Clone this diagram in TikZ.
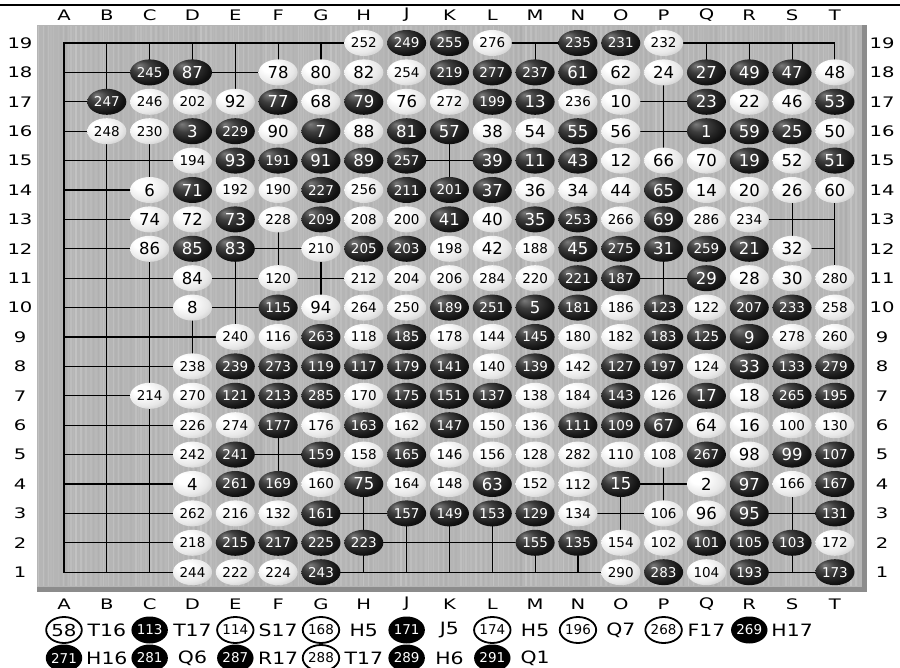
\documentclass[tikz,border=0pt]{standalone}
\usepackage{fontspec}
\setmainfont{DejaVu Sans}
\usepackage{graphicx}
\usetikzlibrary{shapes.geometric}

\pgfdeclareradialshading{wstone}{\pgfpoint{-12bp}{12bp}}{color(0bp)=(white); color(10bp)=(white); color(26bp)=(black!9); color(42bp)=(black!28); color(60bp)=(black!48)}
\pgfdeclareradialshading{bstone}{\pgfpoint{-14bp}{14bp}}{color(0bp)=(black!52); color(12bp)=(black!76); color(28bp)=(black!93); color(50bp)=(black)}

\newcommand\stretchx[1]{\scalebox{1.35}[1]{#1}}
\newcommand\legstretch[1]{\scalebox{1.2}[1]{#1}}

\def\stonelist{%
8/19/252/w, 9/19/249/b, 10/19/255/b, 11/19/276/w, 13/19/235/b, 14/19/231/b, 15/19/232/w,
3/18/245/b, 4/18/87/b, 6/18/78/w, 7/18/80/w, 8/18/82/w, 9/18/254/w, 10/18/219/b, 11/18/277/b, 12/18/237/b, 13/18/61/b, 14/18/62/w, 15/18/24/w, 16/18/27/b, 17/18/49/b, 18/18/47/b, 19/18/48/w,
2/17/247/b, 3/17/246/w, 4/17/202/w, 5/17/92/w, 6/17/77/b, 7/17/68/w, 8/17/79/b, 9/17/76/w, 10/17/272/w, 11/17/199/b, 12/17/13/b, 13/17/236/w, 14/17/10/w, 16/17/23/b, 17/17/22/w, 18/17/46/w, 19/17/53/b,
2/16/248/w, 3/16/230/w, 4/16/3/b, 5/16/229/b, 6/16/90/w, 7/16/7/b, 8/16/88/w, 9/16/81/b, 10/16/57/b, 11/16/38/w, 12/16/54/w, 13/16/55/b, 14/16/56/w, 16/16/1/b, 17/16/59/b, 18/16/25/b, 19/16/50/w,
4/15/194/w, 5/15/93/b, 6/15/191/b, 7/15/91/b, 8/15/89/b, 9/15/257/b, 11/15/39/b, 12/15/11/b, 13/15/43/b, 14/15/12/w, 15/15/66/w, 16/15/70/w, 17/15/19/b, 18/15/52/w, 19/15/51/b,
3/14/6/w, 4/14/71/b, 5/14/192/w, 6/14/190/w, 7/14/227/b, 8/14/256/w, 9/14/211/b, 10/14/201/b, 11/14/37/b, 12/14/36/w, 13/14/34/w, 14/14/44/w, 15/14/65/b, 16/14/14/w, 17/14/20/w, 18/14/26/w, 19/14/60/w,
3/13/74/w, 4/13/72/w, 5/13/73/b, 6/13/228/w, 7/13/209/b, 8/13/208/w, 9/13/200/w, 10/13/41/b, 11/13/40/w, 12/13/35/b, 13/13/253/b, 14/13/266/w, 15/13/69/b, 16/13/286/w, 17/13/234/w,
3/12/86/w, 4/12/85/b, 5/12/83/b, 7/12/210/w, 8/12/205/b, 9/12/203/b, 10/12/198/w, 11/12/42/w, 12/12/188/w, 13/12/45/b, 14/12/275/b, 15/12/31/b, 16/12/259/b, 17/12/21/b, 18/12/32/w,
4/11/84/w, 6/11/120/w, 8/11/212/w, 9/11/204/w, 10/11/206/w, 11/11/284/w, 12/11/220/w, 13/11/221/b, 14/11/187/b, 16/11/29/b, 17/11/28/w, 18/11/30/w, 19/11/280/w,
4/10/8/w, 6/10/115/b, 7/10/94/w, 8/10/264/w, 9/10/250/w, 10/10/189/b, 11/10/251/b, 12/10/5/b, 13/10/181/b, 14/10/186/w, 15/10/123/b, 16/10/122/w, 17/10/207/b, 18/10/233/b, 19/10/258/w,
5/9/240/w, 6/9/116/w, 7/9/263/b, 8/9/118/w, 9/9/185/b, 10/9/178/w, 11/9/144/w, 12/9/145/b, 13/9/180/w, 14/9/182/w, 15/9/183/b, 16/9/125/b, 17/9/9/b, 18/9/278/w, 19/9/260/w,
4/8/238/w, 5/8/239/b, 6/8/273/b, 7/8/119/b, 8/8/117/b, 9/8/179/b, 10/8/141/b, 11/8/140/w, 12/8/139/b, 13/8/142/w, 14/8/127/b, 15/8/197/b, 16/8/124/w, 17/8/33/b, 18/8/133/b, 19/8/279/b,
3/7/214/w, 4/7/270/w, 5/7/121/b, 6/7/213/b, 7/7/285/b, 8/7/170/w, 9/7/175/b, 10/7/151/b, 11/7/137/b, 12/7/138/w, 13/7/184/w, 14/7/143/b, 15/7/126/w, 16/7/17/b, 17/7/18/w, 18/7/265/b, 19/7/195/b,
4/6/226/w, 5/6/274/w, 6/6/177/b, 7/6/176/w, 8/6/163/b, 9/6/162/w, 10/6/147/b, 11/6/150/w, 12/6/136/w, 13/6/111/b, 14/6/109/b, 15/6/67/b, 16/6/64/w, 17/6/16/w, 18/6/100/w, 19/6/130/w,
4/5/242/w, 5/5/241/b, 7/5/159/b, 8/5/158/w, 9/5/165/b, 10/5/146/w, 11/5/156/w, 12/5/128/w, 13/5/282/w, 14/5/110/w, 15/5/108/w, 16/5/267/b, 17/5/98/w, 18/5/99/b, 19/5/107/b,
4/4/4/w, 5/4/261/b, 6/4/169/b, 7/4/160/w, 8/4/75/b, 9/4/164/w, 10/4/148/w, 11/4/63/b, 12/4/152/w, 13/4/112/w, 14/4/15/b, 16/4/2/w, 17/4/97/b, 18/4/166/w, 19/4/167/b,
4/3/262/w, 5/3/216/w, 6/3/132/w, 7/3/161/b, 9/3/157/b, 10/3/149/b, 11/3/153/b, 12/3/129/b, 13/3/134/w, 15/3/106/w, 16/3/96/w, 17/3/95/b, 19/3/131/b,
4/2/218/w, 5/2/215/b, 6/2/217/b, 7/2/225/b, 8/2/223/b, 12/2/155/b, 13/2/135/b, 14/2/154/w, 15/2/102/w, 16/2/101/b, 17/2/105/b, 18/2/103/b, 19/2/172/w,
4/1/244/w, 5/1/222/w, 6/1/224/w, 7/1/243/b, 14/1/290/w, 15/1/283/b, 16/1/104/w, 17/1/193/b, 19/1/173/b}

% mark occupied points
\foreach \cc/\rr/\nn/\kk in \stonelist {\expandafter\gdef\csname st-\cc-\rr\endcsname{1}}

\tikzset{
  gridline/.style={line width=1.1pt, black, line cap=rect},
  stone/.style={ellipse, minimum width=39pt, minimum height=26pt, inner sep=0pt},
  bst/.style={stone, shading=bstone, text=white},
  wst/.style={stone, shading=wstone, text=black},
  lab/.style={inner sep=0pt, font=\fontsize{14.5}{15}\selectfont},
  legw/.style={ellipse, draw=black, line width=1.8pt, fill=white, minimum width=35pt, minimum height=26pt, inner sep=0pt},
  legb/.style={ellipse, fill=black, text=white, minimum width=36pt, minimum height=27pt, inner sep=0pt},
  legt/.style={inner sep=0pt, font=\fontsize{17}{17}\selectfont},
  big/.style={font=\fontsize{16.5}{17}\selectfont},
  small/.style={font=\fontsize{13.5}{14}\selectfont},
}

\begin{document}
\begin{tikzpicture}[x=1pt, y=-1pt]
\useasboundingbox (0,0) rectangle (900,668);
\fill[white] (0,0) rectangle (900,668);
% top rule
\draw[line width=2pt] (0,5) -- (900,5);

% board
\fill[black!29] (37,25) rectangle (867,592);
\foreach \i in {0,...,328}{
  \pgfmathtruncatemacro\sh{24+mod(\i*7,13)/2+mod(\i*3,5)/2}
  \draw[line width=1.3pt, black!\sh] ({38.5+\i*2.5},26) -- ({38.5+\i*2.5},586);
}
\fill[black!45] (862,25) rectangle (867,592);
\fill[black!45] (37,587) rectangle (867,592);

% grid points
\foreach \cc in {1,...,19}{
  \foreach \rr in {1,...,19}{
    \coordinate (p-\cc-\rr) at ({64+(\cc-1)*42.83},{43+(19-\rr)*29.4});
  }
}
% horizontal segments
\foreach \rr in {1,...,19}{
  \foreach \cc in {1,...,18}{
    \pgfmathtruncatemacro\cn{\cc+1}
    \def\dodraw{1}
    \ifcsname st-\cc-\rr\endcsname\ifcsname st-\cn-\rr\endcsname\def\dodraw{0}\fi\fi
    \ifnum\dodraw=1 \draw[gridline] (p-\cc-\rr) -- (p-\cn-\rr);\fi
  }
}
% vertical segments
\foreach \cc in {1,...,19}{
  \foreach \rr in {1,...,18}{
    \pgfmathtruncatemacro\rn{\rr+1}
    \def\dodraw{1}
    \ifcsname st-\cc-\rr\endcsname\ifcsname st-\cc-\rn\endcsname\def\dodraw{0}\fi\fi
    \ifnum\dodraw=1 \draw[gridline] (p-\cc-\rr) -- (p-\cc-\rn);\fi
  }
}

% stones
\foreach \cc/\rr/\nn/\kk in \stonelist {
  \ifnum\nn>99 \def\sz{small}\else\def\sz{big}\fi
  \if b\kk
    \node[bst, \sz] (s-\cc-\rr) at (p-\cc-\rr) {\nn};
  \else
    \node[wst, \sz] (s-\cc-\rr) at (p-\cc-\rr) {\nn};
  \fi
}

% coordinate labels
\foreach \cc/\ll in {1/A,2/B,3/C,4/D,5/E,6/F,7/G,8/H,9/J,10/K,11/L,12/M,13/N,14/O,15/P,16/Q,17/R,18/S,19/T}{
  \node[lab] (top-\cc) at ({64+(\cc-1)*42.83},15) {\stretchx{\ll}};
  \node[lab] (bot-\cc) at ({64+(\cc-1)*42.83},604) {\stretchx{\ll}};
}
\foreach \rr in {1,...,19}{
  \node[lab] (left-\rr) at (20,{43+(19-\rr)*29.4}) {\stretchx{\rr}};
  \node[lab] (right-\rr) at (882,{43+(19-\rr)*29.4}) {\stretchx{\rr}};
}

% legend
\foreach \cc/\kk/\tt in {1/w/58,2/t/T16,3/b/113,4/t/T17,5/w/114,6/t/S17,7/w/168,8/t/H5,9/b/171,10/t/J5,11/w/174,12/t/H5,13/w/196,14/t/Q7,15/w/268,16/t/F17,17/b/269,18/t/H17}{
  \ifnum\cc=1 \def\sz{big}\else\def\sz{small}\fi
  \if w\kk
    \node[legw, \sz] (la-\cc) at ({64+(\cc-1)*42.83},630) {\ifnum\cc=1 \legstretch{\tt}\else\tt\fi};
  \else\if b\kk
    \node[legb, small] (la-\cc) at ({64+(\cc-1)*42.83},630) {\tt};
  \else
    \node[legt] (la-\cc) at ({64+(\cc-1)*42.83},630) {\legstretch{\tt}};
  \fi\fi
}
\foreach \cc/\kk/\tt in {1/b/271,2/t/H16,3/b/281,4/t/Q6,5/b/287,6/t/R17,7/w/288,8/t/T17,9/b/289,10/t/H6,11/b/291,12/t/Q1}{
  \if w\kk
    \node[legw, small] (lb-\cc) at ({64+(\cc-1)*42.83},658) {\tt};
  \else\if b\kk
    \node[legb, small] (lb-\cc) at ({64+(\cc-1)*42.83},658) {\tt};
  \else
    \node[legt] (lb-\cc) at ({64+(\cc-1)*42.83},658) {\legstretch{\tt}};
  \fi\fi
}
\end{tikzpicture}
\end{document}
